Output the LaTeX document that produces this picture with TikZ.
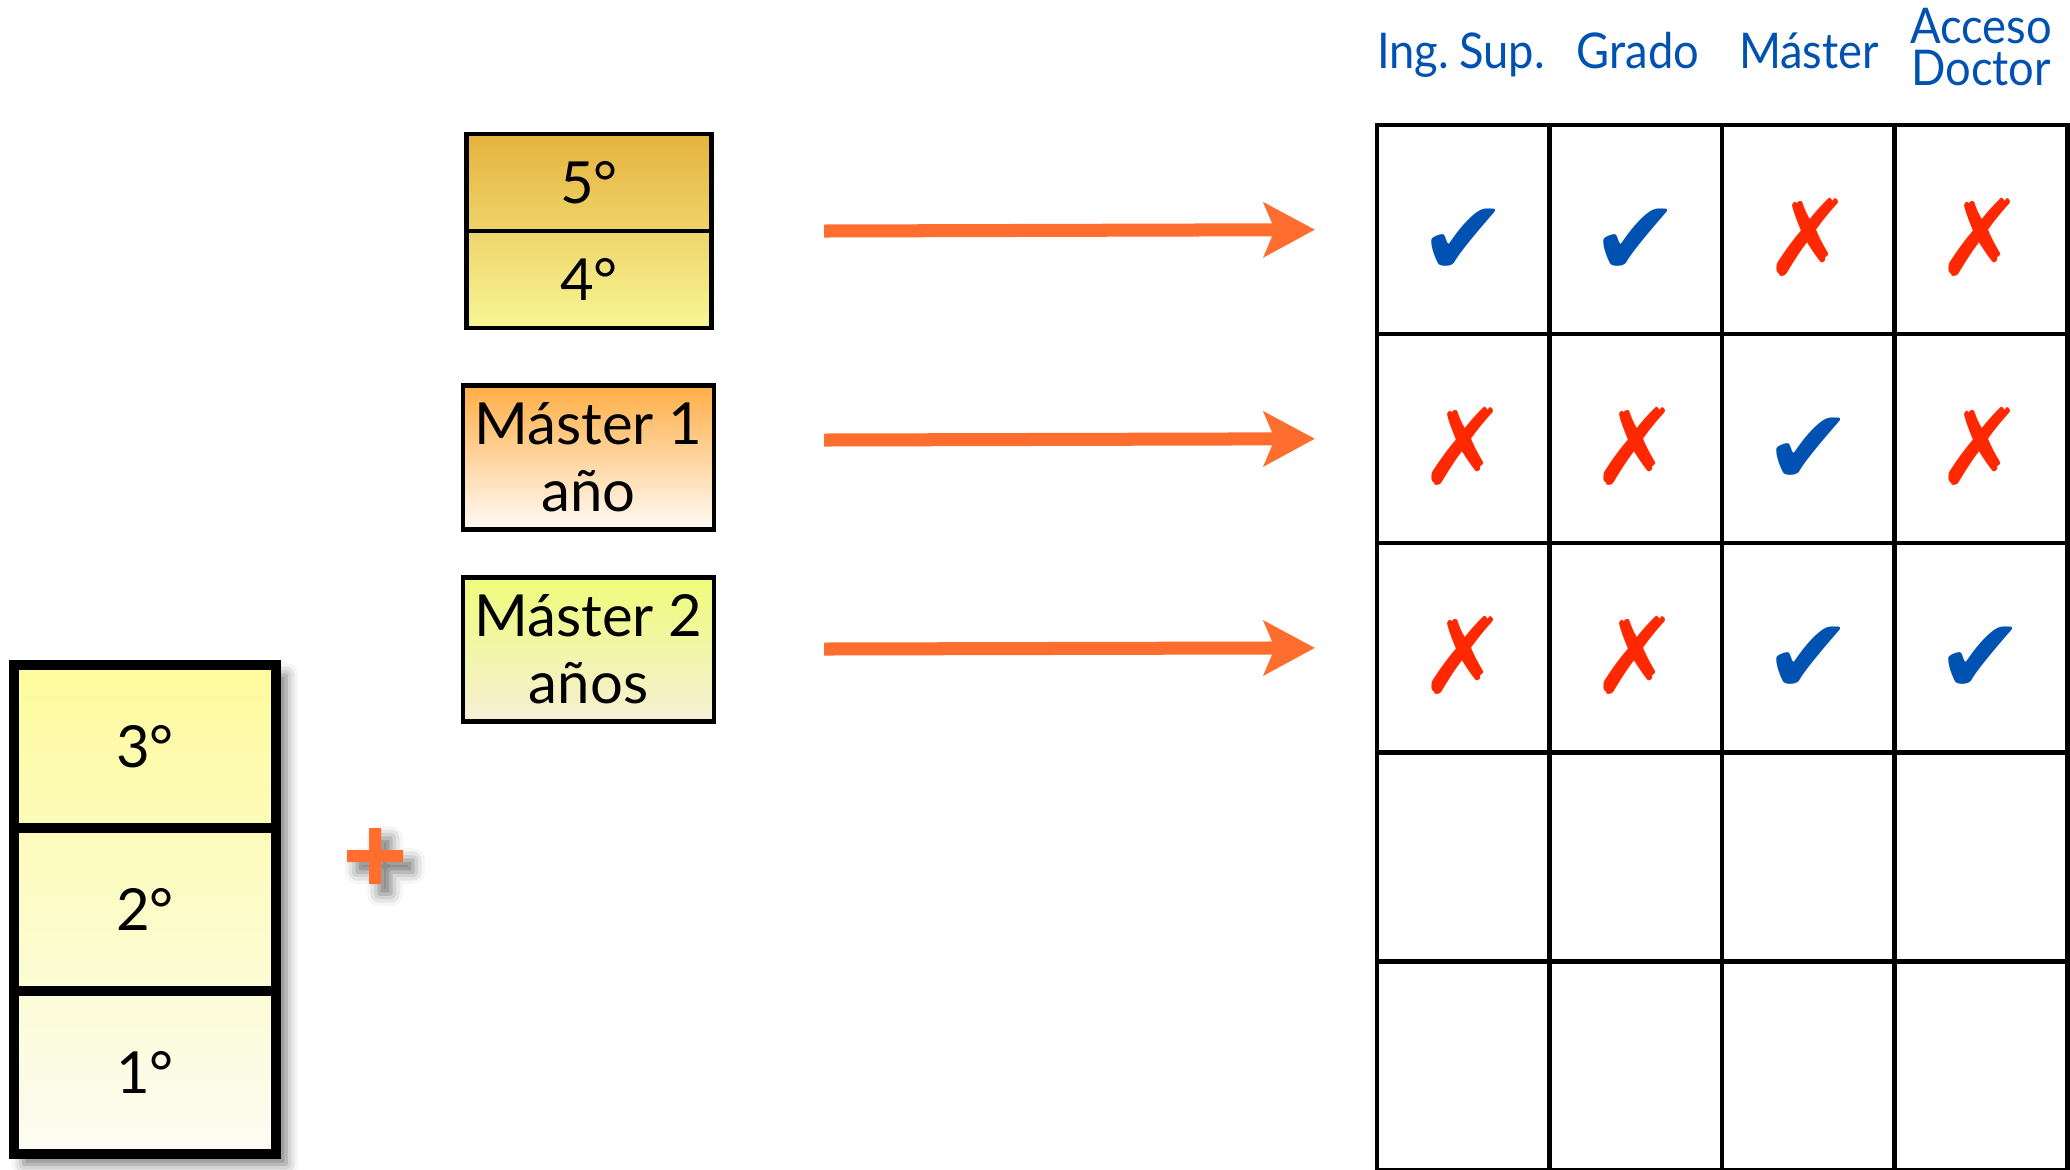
\documentclass[tikz,border=0pt]{standalone}
\usepackage{fontspec}
\setmainfont{Lato}
\newfontfamily\headfont[FakeStretch=0.92, WordSpace=0.55]{Lato}
\newfontfamily\dingfont{DejaVu Sans}
\usetikzlibrary{positioning,arrows.meta,backgrounds,shadows.blur}

\definecolor{keyorange}{RGB}{255,110,46}
\definecolor{keyblue}{RGB}{0,82,178}
\definecolor{keyred}{RGB}{255,40,0}
\definecolor{paleyellow}{RGB}{253,251,156}
\definecolor{offwhite}{RGB}{252,252,244}
\definecolor{gold}{RGB}{229,178,62}
\definecolor{lemon}{RGB}{248,247,150}
\definecolor{apricot}{RGB}{255,174,69}
\definecolor{cream}{RGB}{255,251,247}
\definecolor{lime}{RGB}{237,252,122}
\definecolor{beige}{RGB}{247,239,214}

\newcommand{\yes}{\textcolor{keyblue}{\fontsize{30}{30}\dingfont ✔}}
\newcommand{\no}{\textcolor{keyred}{\fontsize{30}{30}\dingfont ✗}}

\tikzset{
  year/.style={draw, line width=2.9pt, outer sep=0pt, minimum width=2.62cm, minimum height=1.63cm, font=\fontsize{16.5}{19}\selectfont},
  term/.style={draw, line width=1.3pt, outer sep=0pt, minimum width=2.45cm, minimum height=0.97cm, font=\fontsize{16.5}{19}\selectfont},
  master/.style={draw, line width=1.3pt, outer sep=0pt, minimum width=2.47cm, minimum height=1.44cm, align=center, font=\fontsize{16.5}{19}\selectfont},
  cell/.style={draw, line width=1.3pt, outer sep=0pt, minimum width=1.725cm, minimum height=2.09cm},
  head/.style={text=keyblue, inner sep=0pt, align=center, font=\fontsize{14}{12}\headfont},
  verdict/.style={anchor=base, inner sep=0pt, yshift=-4.6mm},
  flow/.style={draw=keyorange, line width=3.7pt, -{Stealth[length=5.1mm, width=5.4mm, inset=1.1mm]}, shorten >=0.62cm},
  soft/.style={blur shadow={shadow xshift=1mm, shadow yshift=-1mm, shadow blur radius=1.2mm, shadow opacity=55}}
}

\begin{document}
\begin{tikzpicture}[x=0.01cm, y=-0.01cm]
    \useasboundingbox (0,0) rectangle (2070,1169);

    % first three years
    \node[year] (y3) at (145,746.5) {3°};
    \node[year, below=0pt of y3] (y2) {2°};
    \node[year, below=0pt of y2] (y1) {1°};

    \fill[keyorange, soft] (347,850) -- (369,850) -- (369,828) -- (381,828) -- (381,850) -- (403,850)
        -- (403,862) -- (381,862) -- (381,884) -- (369,884) -- (369,862) -- (347,862) -- cycle;

    % years 4 and 5, masters
    \node[term] (b5) at (589,182.5) {5°};
    \node[term, below=0pt of b5] (b4) {4°};
    \node[master, top color=apricot, bottom color=cream] (m1) at (588.5,457.5) {Máster 1\\año};
    \node[master, top color=lime, bottom color=beige] (m2) at (588.5,649.5) {Máster 2\\años};

    \begin{scope}[on background layer]
        \fill[top color=paleyellow, bottom color=offwhite, soft] (y3.north west) rectangle (y1.south east);
        \fill[top color=gold, bottom color=lemon] (b5.north west) rectangle (b4.south east);
    \end{scope}

    % table
    \node[cell] (c11) at (1463.25,229.5) {};
    \node[cell, right=0pt of c11] (c12) {};
    \node[cell, right=0pt of c12] (c13) {};
    \node[cell, right=0pt of c13] (c14) {};
    \node[cell, below=0pt of c11] (c21) {};
    \node[cell, right=0pt of c21] (c22) {};
    \node[cell, right=0pt of c22] (c23) {};
    \node[cell, right=0pt of c23] (c24) {};
    \node[cell, below=0pt of c21] (c31) {};
    \node[cell, right=0pt of c31] (c32) {};
    \node[cell, right=0pt of c32] (c33) {};
    \node[cell, right=0pt of c33] (c34) {};
    \node[cell, below=0pt of c31] (c41) {};
    \node[cell, right=0pt of c41] (c42) {};
    \node[cell, right=0pt of c42] (c43) {};
    \node[cell, right=0pt of c43] (c44) {};
    \node[cell, below=0pt of c41] (c51) {};
    \node[cell, right=0pt of c51] (c52) {};
    \node[cell, right=0pt of c52] (c53) {};
    \node[cell, right=0pt of c53] (c54) {};

    \node[head, anchor=base] (h1) at (1461,68) {Ing. Sup.};
    \node[head, anchor=base] (h2) at (1638,68) {Grado};
    \node[head, anchor=base] (h3) at (1809,68) {Máster};
    \node[head, anchor=south] (h4) at (1981,87) {Acceso\\Doctor};

    \node[verdict] (k11) at (c11) {\yes};
    \node[verdict] (k12) at (c12) {\yes};
    \node[verdict] (k13) at (c13) {\no};
    \node[verdict] (k14) at (c14) {\no};
    \node[verdict] (k21) at (c21) {\no};
    \node[verdict] (k22) at (c22) {\no};
    \node[verdict] (k23) at (c23) {\yes};
    \node[verdict] (k24) at (c24) {\no};
    \node[verdict] (k31) at (c31) {\no};
    \node[verdict] (k32) at (c32) {\no};
    \node[verdict] (k33) at (c33) {\yes};
    \node[verdict] (k34) at (c34) {\yes};

    % arrows
    \coordinate (a1) at (824,231);
    \coordinate (a2) at (824,440);
    \coordinate (a3) at (824,649);
    \draw[flow] (a1) -- (c11.west);
    \draw[flow] (a2) -- (c21.west);
    \draw[flow] (a3) -- (c31.west);

\end{tikzpicture}
\end{document}
